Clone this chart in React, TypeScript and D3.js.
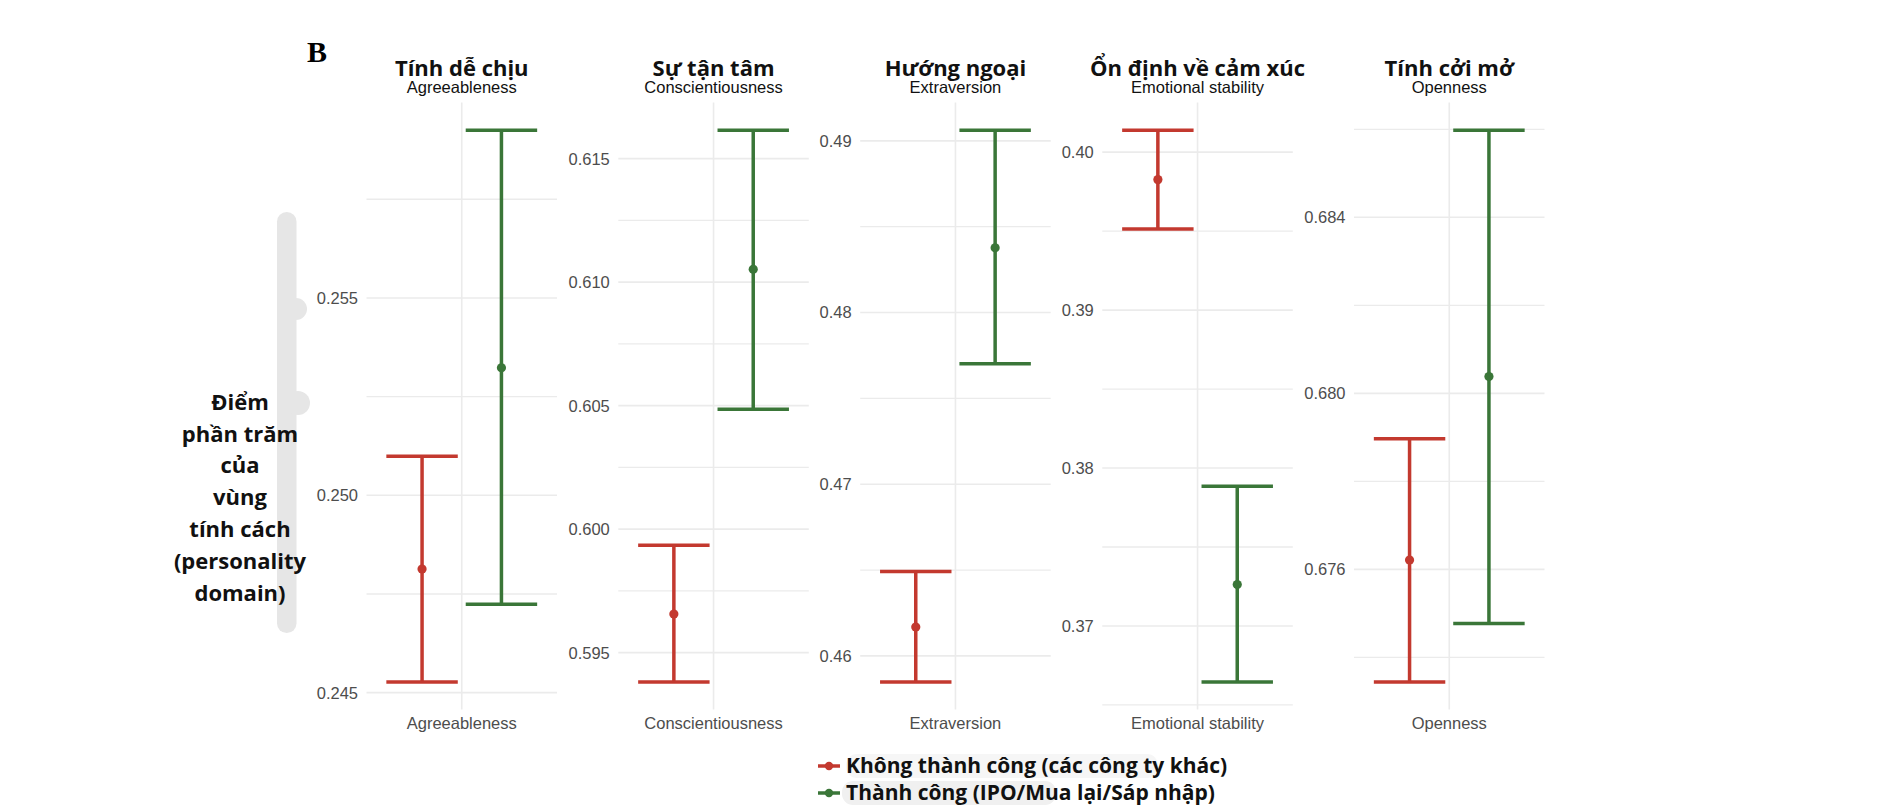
import React from 'react';
import * as d3 from 'd3';

// ---------- data ----------
const domains = ['Agreeableness', 'Conscientiousness', 'Extraversion', 'Emotional stability', 'Openness'];
const titlesVi = ['Tính dễ chịu', 'Sự tận tâm', 'Hướng ngoại', 'Ổn định về cảm xúc', 'Tính cởi mở'];
const groupLabels = ['Không thành công (các công ty khác)', 'Thành công (IPO/Mua lại/Sáp nhập)'];

const unsuccessfulMean = [0.24813, 0.59656, 0.46168, 0.39826, 0.67621];
const unsuccessfulLow = [0.24527, 0.59381, 0.45848, 0.39514, 0.67344];
const unsuccessfulHigh = [0.25099, 0.59935, 0.46492, 0.40139, 0.67897];

const successfulMean = [0.25323, 0.61052, 0.48377, 0.37262, 0.68038];
const successfulLow = [0.24724, 0.60485, 0.47701, 0.36645, 0.67477];
const successfulHigh = [0.25925, 0.61615, 0.49062, 0.37884, 0.68598];

const yTicks = [
  [0.245, 0.25, 0.255],
  [0.595, 0.6, 0.605, 0.61, 0.615],
  [0.46, 0.47, 0.48, 0.49],
  [0.37, 0.38, 0.39, 0.4],
  [0.676, 0.68, 0.684],
];
const yTickLabels = [
  ['0.245', '0.250', '0.255'],
  ['0.595', '0.600', '0.605', '0.610', '0.615'],
  ['0.46', '0.47', '0.48', '0.49'],
  ['0.37', '0.38', '0.39', '0.40'],
  ['0.676', '0.680', '0.684'],
];
const yTitleLines = ['Điểm', 'phần trăm', 'của', 'vùng', 'tính cách', '(personality', 'domain)'];
const panelLetter = 'B';

// ---------- layout / style ----------
const W = 1882;
const H = 808;
const PANEL_LEFT = [366.5, 618.3, 860.2, 1102.3, 1354];
const PANEL_W = 190.5;
const PLOT_TOP = 102.6;
const PLOT_BOTTOM = 709.6;
const COLORS = ['#c3392f', '#3a7638'];
const GRID = '#ebebeb';
const AXIS_TEXT = '#4d4d4d';
const SANS = '"Liberation Sans", Arial, sans-serif';
const BOLD = '"Open Sans", "Noto Sans", sans-serif';

function Panel({ i }: { i: number }) {
  const left = PANEL_LEFT[i];
  const x = d3.scaleLinear().domain([0.4, 1.6]).range([left, left + PANEL_W]);
  const lows = [unsuccessfulLow[i], successfulLow[i]];
  const highs = [unsuccessfulHigh[i], successfulHigh[i]];
  const means = [unsuccessfulMean[i], successfulMean[i]];
  const lo = d3.min(lows) as number;
  const hi = d3.max(highs) as number;
  const pad = (hi - lo) * 0.05;
  const y = d3.scaleLinear().domain([lo - pad, hi + pad]).range([PLOT_BOTTOM, PLOT_TOP]);
  const ticks = yTicks[i];
  const step = ticks[1] - ticks[0];
  const minors: number[] = [];
  for (let k = -1; k < ticks.length; k++) {
    const v = ticks[0] + (k + 0.5) * step;
    if (v >= lo - pad && v <= hi + pad) minors.push(v);
  }
  const cx = x(1);
  const offsets = [-0.25, 0.25];
  const capHalf = 0.225;
  return (
    <g>
      {minors.map((v, k) => (
        <line key={'mi' + k} x1={left} x2={left + PANEL_W} y1={y(v)} y2={y(v)} stroke={GRID} strokeWidth={1.3} />
      ))}
      {ticks.map((v, k) => (
        <line key={'ma' + k} x1={left} x2={left + PANEL_W} y1={y(v)} y2={y(v)} stroke={GRID} strokeWidth={1.6} />
      ))}
      <line x1={cx} x2={cx} y1={PLOT_TOP} y2={PLOT_BOTTOM} stroke={GRID} strokeWidth={1.6} />
      {ticks.map((v, k) => (
        <text key={'tl' + k} x={left - 8.5} y={y(v)} dy="0.36em" textAnchor="end" fontFamily={SANS} fontSize={16.5} fill={AXIS_TEXT}>
          {yTickLabels[i][k]}
        </text>
      ))}
      {[0, 1].map((g) => {
        const gx = x(1 + offsets[g]);
        const x1 = x(1 + offsets[g] - capHalf);
        const x2 = x(1 + offsets[g] + capHalf);
        return (
          <g key={'g' + g} stroke={COLORS[g]} strokeWidth={3.5}>
            <line x1={gx} x2={gx} y1={y(lows[g])} y2={y(highs[g])} />
            <line x1={x1} x2={x2} y1={y(lows[g])} y2={y(lows[g])} />
            <line x1={x1} x2={x2} y1={y(highs[g])} y2={y(highs[g])} />
            <circle cx={gx} cy={y(means[g])} r={4.6} fill={COLORS[g]} stroke="none" />
          </g>
        );
      })}
      <text x={cx} y={729.3} textAnchor="middle" fontFamily={SANS} fontSize={16.5} fill={AXIS_TEXT}>
        {domains[i]}
      </text>
      <text x={cx} y={75.5} textAnchor="middle" fontFamily={BOLD} fontWeight={700} fontSize={22} fill="#111">
        {titlesVi[i]}
      </text>
      <text x={cx} y={93} textAnchor="middle" fontFamily={SANS} fontSize={16.5} fill="#111">
        {domains[i]}
      </text>
    </g>
  );
}

export default function App() {
  return (
    <svg
      width={W}
      height={H}
      viewBox={`0 0 ${W} ${H}`}
      style={{ position: 'absolute', left: 0, top: 0, background: '#fff' }}
    >
      <rect x={0} y={0} width={W} height={H} fill="#fff" />
      <text x={307} y={61.7} fontFamily='"Liberation Serif", "Times New Roman", serif' fontWeight={700} fontSize={30} fill="#000">
        {panelLetter}
      </text>
      {/* grey brace behind y title */}
      <g fill="#e6e6e6">
        <rect x={277} y={212} width={19.5} height={421} rx={9.75} />
        <circle cx={296} cy={309} r={11} />
        <circle cx={298} cy={403} r={12} />
      </g>
      {yTitleLines.map((t, k) => (
        <text key={'yt' + k} x={240} y={402 + k * 31.8} dy="0.35em" textAnchor="middle" fontFamily={BOLD} fontWeight={700} fontSize={22} fill="#111">
          {t}
        </text>
      ))}
      {domains.map((_, i) => (
        <Panel key={i} i={i} />
      ))}
      {/* legend */}
      <rect x={846} y={754} width={312} height={24} rx={11} fill="#f6f6f6" />
      <rect x={842} y={781} width={214} height={24} rx={11} fill="#f0f0f0" />
      {groupLabels.map((lab, g) => {
        const cy = 766 + g * 27;
        return (
          <g key={'lg' + g}>
            <line x1={818} x2={840} y1={cy} y2={cy} stroke={COLORS[g]} strokeWidth={3.5} />
            <circle cx={829} cy={cy} r={4.2} fill={COLORS[g]} />
            <text x={846} y={cy} dy="0.34em" fontFamily={BOLD} fontWeight={700} fontSize={21} fill="#111">
              {lab}
            </text>
          </g>
        );
      })}
    </svg>
  );
}
